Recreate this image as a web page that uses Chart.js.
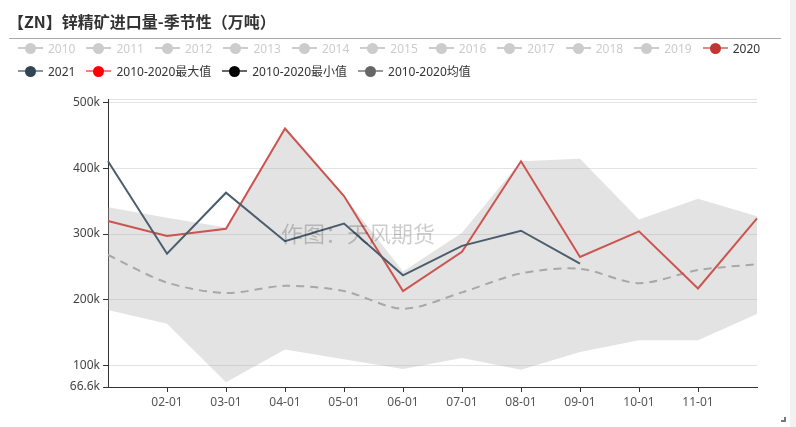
<!DOCTYPE html>
<html>
<head>
<meta charset="utf-8">
<script src="https://cdn.jsdelivr.net/npm/chart.js@4.4.0/dist/chart.umd.min.js"></script>
<style>
    body { margin: 0; width: 796px; height: 427px; position: relative; background: #fff; overflow: hidden;
           font-family: "Noto Sans", "Noto Sans CJK SC", sans-serif; }
    #title { position: absolute; left: 8px; top: 9px; font-size: 16px; font-weight: bold; color: #333;
             font-family: "Noto Sans CJK SC", sans-serif; }
    #rule { position: absolute; left: 9px; top: 38px; width: 772px; height: 1px; background: #aaa; }
    .legend-row { position: absolute; left: 18px; display: flex; align-items: center; height: 16px; font-size: 12px; }
    .item { display: flex; align-items: center; margin-right: 11px; color: #333; white-space: nowrap; }
    .item.off { color: #ccc; }
    .icon { position: relative; width: 25px; height: 14px; margin-right: 5px; }
    .icon .bar { position: absolute; left: 0; right: 0; top: 6px; height: 2px; }
    .icon .dot { position: absolute; left: 7px; top: 1.5px; width: 11px; height: 11px; border-radius: 50%; }
    #chartBox { position: absolute; left: 0; top: 0; width: 790px; height: 427px; }
    #watermark { position: absolute; left: 281px; top: 216px; font-size: 22px; color: rgba(0, 0, 0, 0.2);
                 font-family: "Noto Sans CJK SC", sans-serif; pointer-events: none; }
    #scroll { position: absolute; left: 790px; top: 0; width: 6px; height: 427px; background: #f1f1f1; }
    #corner { position: absolute; left: 781px; top: 417px; width: 3px; height: 3px;
              border-right: 2px solid #777; border-bottom: 2px solid #777; }
</style>
</head>
<body>
<div id="chartBox"><canvas id="seasonChart"></canvas></div>
<div id="title">【ZN】锌精矿进口量-季节性（万吨）</div>
<div id="rule"></div>
<div class="legend-row" id="legendRow1" style="top:40px"></div>
<div class="legend-row" id="legendRow2" style="top:63px"></div>
<div id="watermark">作图：天风期货</div>
<div id="scroll"></div>
<div id="corner"></div>
<script>
// categories
const months = ['01-01', '02-01', '03-01', '04-01', '05-01', '06-01', '07-01', '08-01', '09-01', '10-01', '11-01', '12-01'];
// years switched off in the legend
const hiddenYears = ['2010', '2011', '2012', '2013', '2014', '2015', '2016', '2017', '2018', '2019'];

// series values (tonnes)
const values2020 = [320000, 297000, 308000, 461000, 358000, 213000, 273000, 411000, 265000, 304000, 217000, 324000];
const values2021 = [411000, 270000, 363000, 289000, 316000, 237000, 282000, 305000, 255000];
const valuesMax = [341000, 325000, 310000, 461000, 358000, 243000, 302000, 411000, 415000, 322000, 354000, 327000];
const valuesMin = [184000, 163000, 74000, 124000, 109000, 94000, 111000, 93000, 120000, 138000, 138000, 178000];
const valuesMean = [268000, 226000, 210000, 221000, 213000, 186000, 211000, 240000, 247000, 225000, 245000, 254000];

// y axis
const yTicks = [66600, 100000, 200000, 300000, 400000, 500000, 506000];
const yMin = 66600;
const yMax = 506000;

document.addEventListener('DOMContentLoaded', function() {
    // legend
    function legendItem(name, barColor, dotColor, off) {
        const item = document.createElement('div');
        item.className = off ? 'item off' : 'item';
        item.innerHTML = '<div class="icon"><div class="bar" style="background:' + barColor + '"></div>' +
            '<div class="dot" style="background:' + dotColor + '"></div></div><span>' + name + '</span>';
        return item;
    }
    const row1 = document.getElementById('legendRow1');
    hiddenYears.forEach(y => row1.appendChild(legendItem(y, '#ccc', '#ccc', true)));
    row1.appendChild(legendItem('2020', '#e08a88', '#c23531', false));
    const row2 = document.getElementById('legendRow2');
    row2.appendChild(legendItem('2021', '#8894a0', '#2f4554', false));
    row2.appendChild(legendItem('2010-2020最大值', '#ff7a7a', '#ff0000', false));
    row2.appendChild(legendItem('2010-2020最小值', '#666', '#000', false));
    row2.appendChild(legendItem('2010-2020均值', '#999', '#666', false));

    const ctx = document.getElementById('seasonChart').getContext('2d');
    Chart.defaults.font.family = '"Noto Sans", "Noto Sans CJK SC", sans-serif';
    Chart.defaults.font.size = 12;

    new Chart(ctx, {
        type: 'line',
        data: {
            labels: months,
            datasets: [
                { label: '2021', data: values2021, borderColor: '#4b5d6c', borderWidth: 2, pointRadius: 0, order: 0 },
                { label: '2020', data: values2020, borderColor: '#cc5450', borderWidth: 2, pointRadius: 0, order: 1 },
                { label: '2010-2020均值', data: valuesMean, borderColor: '#a8a8a8', borderWidth: 2, borderDash: [8, 6],
                  tension: 0.3, pointRadius: 0, order: 2 },
                { label: '2010-2020最大值', data: valuesMax, borderWidth: 0, borderColor: 'rgba(0,0,0,0)', pointRadius: 0,
                  fill: { target: 4 }, backgroundColor: 'rgba(170,170,170,0.33)', order: 3 },
                { label: '2010-2020最小值', data: valuesMin, borderWidth: 0, borderColor: 'rgba(0,0,0,0)', pointRadius: 0, order: 4 }
            ]
        },
        options: {
            responsive: true,
            maintainAspectRatio: false,
            animation: false,
            layout: { padding: { top: 99, right: 33, left: 0, bottom: 0 } },
            plugins: {
                legend: { display: false },
                tooltip: { enabled: false }
            },
            scales: {
                x: {
                    offset: false,
                    grid: {
                        drawOnChartArea: false,
                        tickLength: 5,
                        tickColor: c => (c.index === 0 || c.index === months.length - 1) ? 'rgba(0,0,0,0)' : '#333'
                    },
                    border: { color: '#333', width: 1 },
                    ticks: {
                        color: '#555',
                        padding: 3,
                        maxRotation: 0,
                        autoSkip: false,
                        callback: (v, i) => (i === 0 || i === months.length - 1) ? '' : months[i]
                    },
                    afterFit: scale => { scale.height = 40; }
                },
                y: {
                    min: yMin,
                    max: yMax,
                    afterBuildTicks: scale => { scale.ticks = yTicks.map(v => ({ value: v })); },
                    grid: {
                        color: c => c.index === 0 ? 'rgba(0,0,0,0)' : '#e3e3e3',
                        tickColor: c => c.tick.value === yMax ? 'rgba(0,0,0,0)' : '#333',
                        tickLength: 5
                    },
                    border: { color: '#333', width: 1 },
                    ticks: {
                        color: '#444',
                        padding: 3,
                        callback: v => {
                            if (v === yMax) return '';
                            if (v === yMin) return '66.6k';
                            return (v / 1000) + 'k';
                        }
                    },
                    afterFit: scale => { scale.width = 108; }
                }
            }
        }
    });
});
</script>
</body>
</html>
